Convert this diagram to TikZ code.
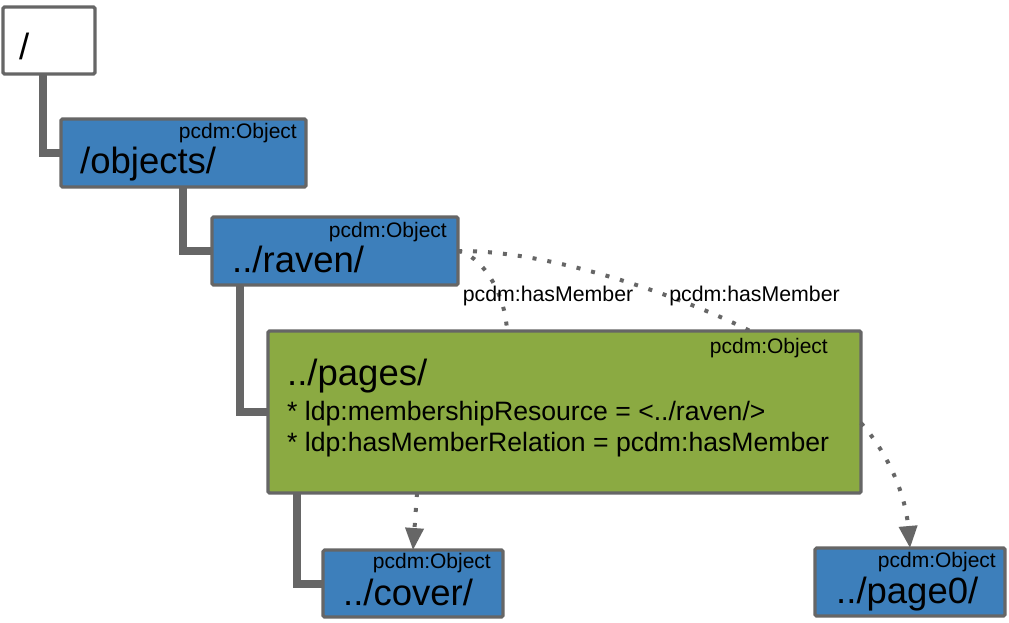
\documentclass[tikz,border=0pt]{standalone}
\usepackage{fontspec}
\setmainfont{Liberation Sans}
\usetikzlibrary{arrows.meta,calc}
\definecolor{bordergray}{HTML}{666666}
\definecolor{objblue}{HTML}{3D7FBB}
\definecolor{pagegreen}{HTML}{8BAA42}
\begin{document}
\begin{tikzpicture}[x=1pt,y=-1pt,
  box/.style={draw=bordergray,line width=3.2pt,rounded corners=1.5pt,inner sep=0pt,outer sep=0pt},
  treeline/.style={draw=bordergray,line width=8pt},
  dotline/.style={draw=bordergray,line width=4pt,dash pattern=on 4pt off 11pt},
  tipend/.style={-{Triangle[width=18pt,length=22pt,fill=bordergray]}},
  typelabel/.style={anchor=base east,inner sep=0pt,font=\fontsize{21}{21}\selectfont},
  pathlabel/.style={anchor=base west,inner sep=0pt,font=\fontsize{36.5}{36.5}\selectfont},
  proplabel/.style={anchor=base west,inner sep=0pt,font=\fontsize{26.6}{26.6}\selectfont},
  rellabel/.style={anchor=base,inner sep=0pt,font=\fontsize{21.3}{21.3}\selectfont}]
\useasboundingbox (0,0) rectangle (1009,622);

% boxes
\node[box,fill=white,minimum width=92,minimum height=67] (root) at (49,40.5) {};
\node[box,fill=objblue,minimum width=245,minimum height=68] (objects) at (183.5,153) {};
\node[box,fill=objblue,minimum width=246,minimum height=68] (raven) at (335,251) {};
\node[box,fill=pagegreen,minimum width=593,minimum height=162] (pages) at (564.5,412) {};
\node[box,fill=objblue,minimum width=180,minimum height=67] (cover) at (413,583.5) {};
\node[box,fill=objblue,minimum width=190,minimum height=68] (page0) at (910,582) {};

% tree connectors
\draw[treeline] ($(root.south west)+(40,0)$) |- (objects.west);
\draw[treeline] ($(objects.south west)+(122,0)$) |- (raven.west);
\draw[treeline] ($(raven.south west)+(28,0)$) |- (pages.west);
\draw[treeline] ($(pages.south west)+(29,0)$) |- (cover.west);

% texts
\node[pathlabel] (rootP) at (19,59) {/};
\node[typelabel] (objT) at (297,138) {pcdm:Object};
\node[pathlabel] (objP) at (80,173) {/objects/};
\node[typelabel] (ravT) at (447,237) {pcdm:Object};
\node[pathlabel] (ravP) at (232,272) {../raven/};
\node[typelabel] (pagT) at (828,353) {pcdm:Object};
\node[pathlabel] (pagP) at (287,385) {../pages/};
\node[proplabel] (pagA) at (287,420) {* ldp:membershipResource = <../raven/>};
\node[proplabel] (pagB) at (287,451) {* ldp:hasMemberRelation = pcdm:hasMember};
\node[typelabel] (covT) at (491,568) {pcdm:Object};
\node[pathlabel] (covP) at (343,605) {../cover/};
\node[typelabel] (p0T) at (996,567) {pcdm:Object};
\node[pathlabel] (p0P) at (836,603) {../page0/};

% membership relations
\coordinate (m1) at ($(pages.north west)+(239,0)$);
\coordinate (m2) at ($(pages.north west)+(482,0)$);
\draw[dotline] (raven.east) .. controls (480,255) and (505,290) .. (m1);
\draw[dotline] (raven.east) .. controls (560,250) and (700,305) .. (m2);
\node[rellabel] (rel1) at (548,301) {pcdm:hasMember};
\node[rellabel] (rel2) at (754.5,301) {pcdm:hasMember};

% contained resources
\coordinate (c1) at ($(pages.south west)+(149,0)$);
\coordinate (c2) at ($(pages.north east)+(0,92)$);
\draw[dotline,tipend] (c1) -- (cover.north);
\draw[dotline,tipend] (c2) .. controls (885,450) and (905,490) .. (page0.north);
\end{tikzpicture}
\end{document}
